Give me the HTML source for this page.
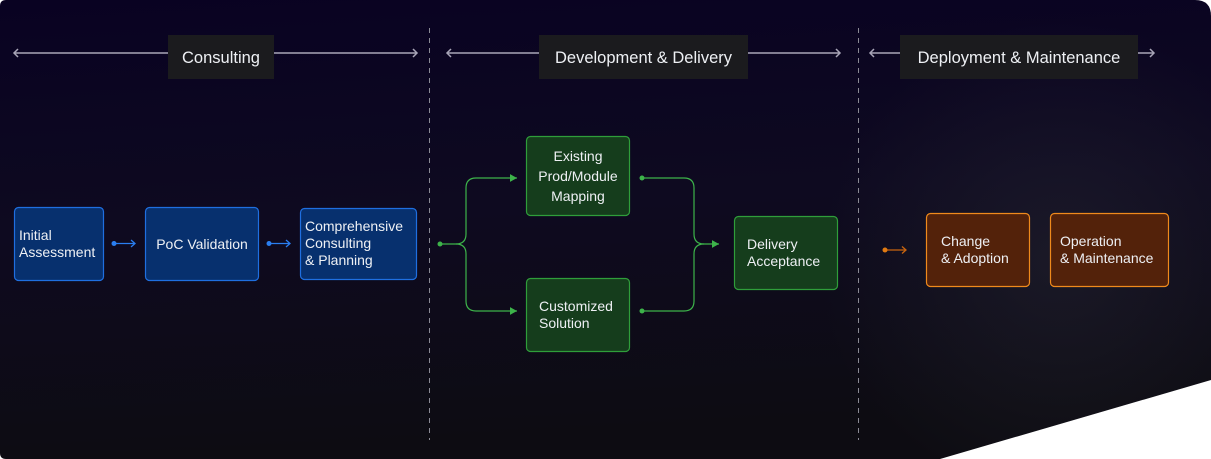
<!DOCTYPE html>
<html><head><meta charset="utf-8"><style>
html,body{margin:0;padding:0;background:#fff;width:1211px;height:459px;overflow:hidden}
svg{display:block}
text{font-family:"Liberation Sans",sans-serif;fill:#eef0f4}
</style></head><body>
<svg width="1211" height="459" viewBox="0 0 1211 459" xmlns="http://www.w3.org/2000/svg">
<defs>
<linearGradient id="bg" x1="0" y1="0" x2="0.15" y2="1">
<stop offset="0" stop-color="#090222"/><stop offset="0.5" stop-color="#0e0a20"/><stop offset="1" stop-color="#0d0c12"/>
</linearGradient>
<radialGradient id="glow" cx="1060" cy="260" r="240" gradientUnits="userSpaceOnUse">
<stop offset="0" stop-color="#2a2a36" stop-opacity="0.45"/><stop offset="1" stop-color="#2a2a36" stop-opacity="0"/>
</radialGradient>
<clipPath id="cp"><path d="M6 0 H1195 Q1211 0 1211 16 V380 L940 459 H6 Q0 459 0 453 V6 Q0 0 6 0Z"/></clipPath>
<marker id="ag" viewBox="0 0 10 10" refX="9" refY="5" markerWidth="8" markerHeight="8" orient="auto" markerUnits="userSpaceOnUse"><path d="M0 0 L9 5 L0 10Z" fill="#3db34a"/></marker>
</defs>
<g clip-path="url(#cp)">
<rect width="1211" height="459" fill="url(#bg)"/>
<rect width="1211" height="459" fill="url(#glow)"/>
</g>
<line x1="429.5" y1="28" x2="429.5" y2="440" stroke="#8a8a94" stroke-dasharray="5,5"/>
<line x1="858.5" y1="28" x2="858.5" y2="440" stroke="#8a8a94" stroke-dasharray="5,5"/>
<g stroke="#a9a6b8" stroke-width="1.5" fill="none">
<line x1="14" y1="53" x2="417" y2="53"/><path d="M18 49 L14 53 L18 57 M413 49 L417 53 L413 57"/>
<line x1="447" y1="53" x2="840" y2="53"/><path d="M451 49 L447 53 L451 57 M836 49 L840 53 L836 57"/>
<line x1="870" y1="53" x2="1154" y2="53"/><path d="M874 49 L870 53 L874 57 M1150 49 L1154 53 L1150 57"/>
</g>
<rect x="168" y="35" width="106" height="44" fill="#1b1b1e"/>
<text x="221" y="63" font-size="16.5" text-anchor="middle">Consulting</text>
<rect x="539" y="35" width="209" height="44" fill="#1b1b1e"/>
<text x="643.5" y="63" font-size="16.5" text-anchor="middle">Development &amp; Delivery</text>
<rect x="900" y="35" width="238" height="44" fill="#1b1b1e"/>
<text x="1019" y="63" font-size="16.5" text-anchor="middle">Deployment &amp; Maintenance</text>
<g fill="#07306e" stroke="#1f6fe0" stroke-width="1.2">
<rect x="14.5" y="207.5" width="89" height="73" rx="4"/>
<rect x="145.5" y="207.5" width="113" height="73" rx="4"/>
<rect x="300.5" y="208.5" width="116" height="71" rx="4"/>
</g>
<g font-size="14">
<text x="19" y="240">Initial</text><text x="19" y="257">Assessment</text>
<text x="202" y="249" text-anchor="middle">PoC Validation</text>
<text x="305" y="231">Comprehensive</text><text x="305" y="248">Consulting</text><text x="305" y="265">&amp; Planning</text>
</g>
<g stroke="#2a7ef0" stroke-width="1.3" fill="none">
<line x1="114" y1="243.5" x2="135" y2="243.5"/><path d="M131 240 L135 243.5 L131 247"/>
<line x1="269" y1="243.5" x2="290" y2="243.5"/><path d="M286 240 L290 243.5 L286 247"/>
</g>
<circle cx="114" cy="243.5" r="2.5" fill="#2a7ef0"/><circle cx="269" cy="243.5" r="2.5" fill="#2a7ef0"/>
<g stroke="#3db34a" stroke-width="1.2" fill="none">
<path d="M440 244 H456 Q466 244 466 234 V188 Q466 178 476 178 H517" marker-end="url(#ag)"/>
<path d="M456 244 Q466 244 466 254 V301 Q466 311 476 311 H517" marker-end="url(#ag)"/>
<path d="M642 178 H684 Q694 178 694 188 V234 Q694 244 704 244 H719" marker-end="url(#ag)"/>
<path d="M642 311 H684 Q694 311 694 301 V254 Q694 244 704 244"/>
</g>
<g fill="#3db34a"><circle cx="440" cy="244" r="2.5"/><circle cx="642" cy="178" r="2.5"/><circle cx="642" cy="311" r="2.5"/></g>
<g fill="#153d1c" stroke="#2f9e3a" stroke-width="1.2">
<rect x="526.5" y="136.5" width="103" height="79" rx="4"/>
<rect x="526.5" y="278.5" width="103" height="73" rx="4"/>
<rect x="734.5" y="216.5" width="103" height="73" rx="4"/>
</g>
<g font-size="14">
<text x="578" y="161" text-anchor="middle">Existing</text>
<text x="578" y="181" text-anchor="middle">Prod/Module</text>
<text x="578" y="201" text-anchor="middle">Mapping</text>
<text x="539" y="311">Customized</text><text x="539" y="328">Solution</text>
<text x="747" y="249">Delivery</text><text x="747" y="266">Acceptance</text>
</g>
<g stroke="#c9650f" stroke-width="1.3" fill="none">
<line x1="885" y1="250" x2="906" y2="250"/><path d="M902 246.5 L906 250 L902 253.5"/>
</g>
<circle cx="885" cy="250" r="2.5" fill="#e07a12"/>
<g fill="#53220a" stroke="#f08a1c" stroke-width="1.2">
<rect x="926.5" y="213.5" width="103" height="73" rx="4"/>
<rect x="1050.5" y="213.5" width="118" height="73" rx="4"/>
</g>
<g font-size="14">
<text x="941" y="246">Change</text><text x="941" y="263">&amp; Adoption</text>
<text x="1060" y="246">Operation</text><text x="1060" y="263">&amp; Maintenance</text>
</g>
</svg>
</body></html>
